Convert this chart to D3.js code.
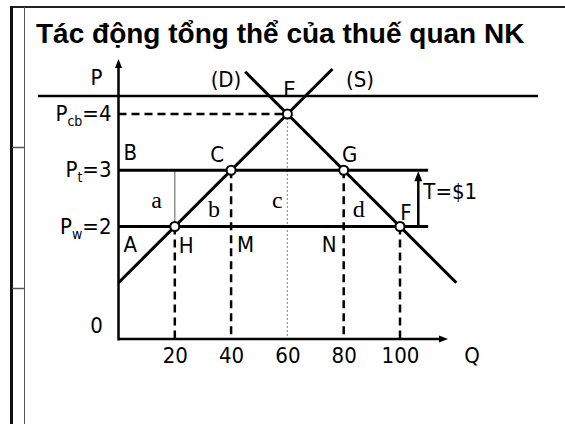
<!DOCTYPE html>
<html>
<head>
<meta charset="utf-8">
<script src="https://cdn.jsdelivr.net/npm/d3@7"></script>
<style>
  body { margin: 0; background: #fff; }
  svg { display: block; }
  .lbl { font-family: "DejaVu Sans Condensed", "DejaVu Sans", sans-serif; font-stretch: condensed; font-size: 22px; fill: #000; }
  .area { font-family: "Liberation Serif", "Times New Roman", serif; font-size: 24px; fill: #000; }
</style>
</head>
<body>
<svg id="chart" width="565" height="424"></svg>
<script>
// Slide title
const title = "Tác động tổng thể của thuế quan NK";

// Quantity ticks on the Q axis
const qTicks = [20, 40, 60, 80, 100];

// Price levels: autarky (cb), with tariff (t), world (w)
const priceNames = ["cb", "t", "w"];
const priceValues = [4, 3, 2];

// Supply (S) and demand (D) line end points, as (Q, P)
const supplyQ = [0, 76];
const supplyP = [1, 4.8];
const demandQ = [45, 120];
const demandP = [4.75, 1];

// Marked intersection points
const pointNames = ["H", "C", "E", "G", "F"];
const pointQ = [20, 40, 60, 80, 100];
const pointP = [2, 3, 4, 3, 2];

// Tariff
const worldPrice = 2;
const tariff = 1;

const svg = d3.select("#chart");

const x = d3.scaleLinear().domain([0, 100]).range([118.5, 400]);
const y = d3.scaleLinear().domain([0, 4]).range([339, 114]);

// ---- slide frame ----
const frame = svg.append("g");
frame.append("line").attr("x1", 10).attr("x2", 565).attr("y1", 7).attr("y2", 7)
  .attr("stroke", "#222").attr("stroke-width", 2);
frame.append("line").attr("x1", 11.5).attr("x2", 11.5).attr("y1", 6).attr("y2", 424)
  .attr("stroke", "#111").attr("stroke-width", 3);
frame.append("line").attr("x1", 24.5).attr("x2", 24.5).attr("y1", 7).attr("y2", 424)
  .attr("stroke", "#555").attr("stroke-width", 1);
[147.5, 288.5].forEach(yy => {
  frame.append("line").attr("x1", 12).attr("x2", 24).attr("y1", yy).attr("y2", yy)
    .attr("stroke", "#555").attr("stroke-width", 1.5);
});

svg.append("text")
  .attr("x", 36).attr("y", 43)
  .style("font-family", "'Liberation Sans', Arial, sans-serif")
  .style("font-weight", "bold")
  .style("font-size", "28px")
  .text(title);

// rule under the title
svg.append("line").attr("x1", 38).attr("x2", 538).attr("y1", 96).attr("y2", 96)
  .attr("stroke", "#000").attr("stroke-width", 2.5);

const g = svg.append("g");

// ---- guide lines ----
const dash = "8,5";
g.append("line")
  .attr("x1", x(0)).attr("x2", x(60)).attr("y1", y(priceValues[0])).attr("y2", y(priceValues[0]))
  .attr("stroke", "#000").attr("stroke-width", 2.5).attr("stroke-dasharray", dash);

// dotted line under the autarky point
g.append("line")
  .attr("x1", x(60)).attr("x2", x(60)).attr("y1", y(4)).attr("y2", y(0))
  .attr("stroke", "#999").attr("stroke-width", 1.2).attr("stroke-dasharray", "2,2");

// thin line closing area a
g.append("line")
  .attr("x1", x(20)).attr("x2", x(20)).attr("y1", y(3)).attr("y2", y(2))
  .attr("stroke", "#777").attr("stroke-width", 1.2);

// dashed drops from H, C, G, F
[0, 1, 3, 4].forEach(i => {
  g.append("line")
    .attr("x1", x(pointQ[i])).attr("x2", x(pointQ[i]))
    .attr("y1", y(pointP[i])).attr("y2", y(0))
    .attr("stroke", "#000").attr("stroke-width", 2.5).attr("stroke-dasharray", dash);
});

// price lines with and without the tariff
[worldPrice, worldPrice + tariff].forEach(p => {
  g.append("line")
    .attr("x1", x(0)).attr("x2", x(110)).attr("y1", y(p)).attr("y2", y(p))
    .attr("stroke", "#000").attr("stroke-width", 3);
});

// ---- axes ----
g.append("line").attr("x1", x(0)).attr("x2", x(0)).attr("y1", y(0) + 1.5).attr("y2", 66)
  .attr("stroke", "#000").attr("stroke-width", 2.5);
g.append("path").attr("d", `M${x(0)},59 L${x(0) - 3.5},68 L${x(0) + 3.5},68 Z`).attr("fill", "#000");
g.append("line").attr("x1", x(0)).attr("x2", 440).attr("y1", y(0)).attr("y2", y(0))
  .attr("stroke", "#000").attr("stroke-width", 2.5);
g.append("path").attr("d", `M448,${y(0)} L439,${y(0) - 3.5} L439,${y(0) + 3.5} Z`).attr("fill", "#000");

const xAxis = g.append("g")
  .attr("transform", `translate(0,${y(0)})`)
  .call(d3.axisBottom(x).tickValues(qTicks).tickSize(0).tickFormat(d3.format("d")));
xAxis.select(".domain").remove();
xAxis.attr("font-family", null).attr("font-size", null);
xAxis.selectAll("text")
  .attr("class", "lbl")
  .attr("y", 24).attr("dy", null);

// ---- supply and demand ----
const line = d3.line().x(d => x(d[0])).y(d => y(d[1]));
g.append("path").datum(d3.zip(supplyQ, supplyP)).attr("d", line)
  .attr("fill", "none").attr("stroke", "#000").attr("stroke-width", 3);
g.append("path").datum(d3.zip(demandQ, demandP)).attr("d", line)
  .attr("fill", "none").attr("stroke", "#000").attr("stroke-width", 3);

// tariff arrow
const tq = 106.5;
g.append("line").attr("x1", x(tq)).attr("x2", x(tq))
  .attr("y1", y(worldPrice)).attr("y2", y(worldPrice + tariff) + 8)
  .attr("stroke", "#000").attr("stroke-width", 2.5);
g.append("path")
  .attr("d", `M${x(tq)},${y(worldPrice + tariff) + 1} L${x(tq) - 4},${y(worldPrice + tariff) + 11} L${x(tq) + 4},${y(worldPrice + tariff) + 11} Z`)
  .attr("fill", "#000");

// intersection markers
g.selectAll("circle.pt").data(pointQ).join("circle")
  .attr("class", "pt")
  .attr("cx", (d, i) => x(d)).attr("cy", (d, i) => y(pointP[i]))
  .attr("r", 4.5).attr("fill", "#fff").attr("stroke", "#000").attr("stroke-width", 2);

// ---- labels ----
function label(txt, px, py, anchor, cls) {
  return g.append("text").attr("class", cls || "lbl")
    .attr("x", px).attr("y", py).attr("text-anchor", anchor || "middle").text(txt);
}

label("P", x(0) - 22, 85);
label("0", x(0) - 22, 333);
label("Q", 472, 363);
label("(D)", 226, 87);
label("(S)", 360, 87);
label("E", x(60) + 2, 97);
label("B", x(0) + 5, 160, "start");
label("A", x(0) + 5, 252, "start");
label("T=$" + tariff, x(tq) + 5, 199, "start");

// point labels next to the markers
const pointDX = [4, -14, 0, 6, 6];
const pointDY = [26, -8, 0, -8, -7];
pointNames.forEach((n, i) => {
  if (n === "E") return;
  label(n, x(pointQ[i]) + pointDX[i], y(pointP[i]) + pointDY[i], i === 0 ? "start" : "middle");
});
label("M", x(40) + 6, 252, "start");
label("N", x(80) - 22, 252, "start");

// welfare area letters
label("a", (x(0) + x(20)) / 2 + 10, 208, "middle", "area");
label("b", x(40) - 17, 217, "middle", "area");
label("c", x(60) - 10, 208, "middle", "area");
label("d", x(80) + 15, 217, "middle", "area");

// price labels with subscripts
priceNames.forEach((n, i) => {
  const t = g.append("text").attr("class", "lbl")
    .attr("x", x(0) - 7).attr("y", y(priceValues[i]) + 7).attr("text-anchor", "end");
  t.append("tspan").text("P");
  t.append("tspan").attr("dy", 5).style("font-size", "14px").text(n);
  t.append("tspan").attr("dy", -5).text("=" + priceValues[i]);
});
</script>
</body>
</html>
